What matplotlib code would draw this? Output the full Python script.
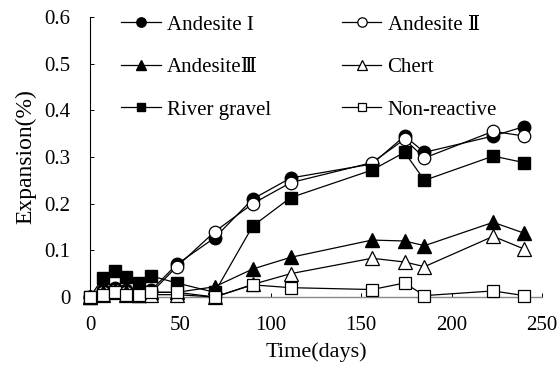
import matplotlib
matplotlib.use('Agg')
import matplotlib.pyplot as plt

plt.rcParams['font.family'] = ['Liberation Serif', 'DejaVu Serif']

days = [0, 7, 14, 20, 27, 34, 48, 69, 90, 111, 156, 174, 185, 223, 240]

andesite_1 = [0, 0.015, 0.02, 0.015, 0.01, 0.015, 0.07, 0.127, 0.21, 0.255, 0.285, 0.345, 0.31, 0.345, 0.365]
andesite_2 = [0, 0.01, 0.015, 0.01, 0.005, 0.01, 0.065, 0.14, 0.2, 0.245, 0.288, 0.338, 0.298, 0.355, 0.345]
andesite_3 = [0, 0.01, 0.015, 0.01, 0.005, 0.01, 0.01, 0.022, 0.06, 0.085, 0.122, 0.12, 0.11, 0.16, 0.137]
chert = [0, 0.005, 0.01, 0.005, 0.005, 0.005, 0.005, 0.0, 0.027, 0.05, 0.083, 0.075, 0.065, 0.13, 0.103]
river_gravel = [0, 0.04, 0.055, 0.043, 0.03, 0.045, 0.03, 0.01, 0.152, 0.213, 0.272, 0.31, 0.25, 0.302, 0.288]
non_reactive = [0, 0.005, 0.01, 0.005, 0.005, 0.01, 0.01, 0.0, 0.026, 0.02, 0.016, 0.03, 0.003, 0.013, 0.003]

labels = ['Andesite I', 'Andesite Ⅱ', 'AndesiteⅢ', 'Chert', 'River gravel', 'Non-reactive']

fig = plt.figure(figsize=(5.58, 3.89), dpi=100)
ax = fig.add_axes([90 / 558, 1 - 297 / 389, 452 / 558, 280 / 389])

kw = dict(color='black', lw=0.9, clip_on=False, zorder=3)
h1, = ax.plot(days, andesite_1, marker='o', ms=9, mfc='black', mec='black', label=labels[0], **kw)
h2, = ax.plot(days, andesite_2, marker='o', ms=9, mfc='white', mec='black', mew=0.9, label=labels[1], **kw)
h3, = ax.plot(days, andesite_3, marker='^', ms=9.5, mfc='black', mec='black', label=labels[2], **kw)
h4, = ax.plot(days, chert, marker='^', ms=9.5, mfc='white', mec='black', mew=0.9, label=labels[3], **kw)
h5, = ax.plot(days, river_gravel, marker='s', ms=8.5, mfc='black', mec='black', label=labels[4], **kw)
h6, = ax.plot(days, non_reactive, marker='s', ms=8.5, mfc='white', mec='black', mew=0.9, label=labels[5], **kw)

ax.set_xlim(0, 250)
ax.set_ylim(0, 0.6)
ax.set_xticks([0, 50, 100, 150, 200, 250])
ax.set_xticklabels(['0', '50', '100', '150', '200', '250'])
ax.set_yticks([0, 0.1, 0.2, 0.3, 0.4, 0.5, 0.6])
ax.set_yticklabels(['0', '0.1', '0.2', '0.3', '0.4', '0.5', '0.6'])

ax.spines['top'].set_visible(False)
ax.spines['right'].set_visible(False)
ax.spines['left'].set_linewidth(0.8)
ax.spines['bottom'].set_color('#888888')
ax.spines['bottom'].set_linewidth(1.0)
ax.tick_params(axis='both', direction='in', length=3, width=0.7, labelsize=15, pad=14)

ax.set_xlabel('Time(days)', fontsize=16, labelpad=5)
ax.set_ylabel('Expansion(%)', fontsize=17, labelpad=6)

# row-wise order: matplotlib fills legend columns first
order = [h1, h3, h5, h2, h4, h6]
ax.legend(order, [h.get_label() for h in order],
          loc='upper left', bbox_to_anchor=(121 / 558, 1 - 15 / 389),
          bbox_transform=fig.transFigure, ncol=2, frameon=False, fontsize=15,
          handlelength=1.9, handletextpad=0.3, labelspacing=1.1, markerscale=0.75,
          columnspacing=3.4, borderpad=0, borderaxespad=0)

fig.savefig('out.png', dpi=100)
